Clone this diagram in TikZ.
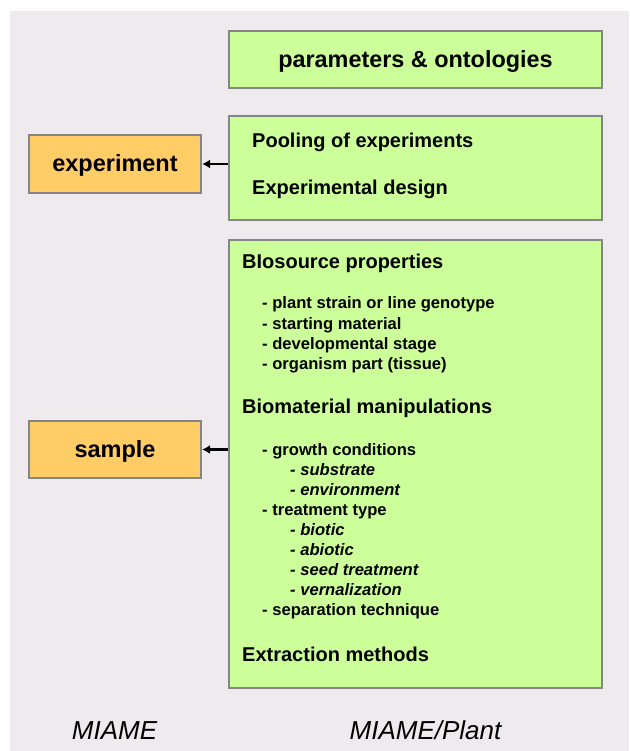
\documentclass[tikz,border=0pt]{standalone}
\usepackage{fontspec}
\setmainfont{Liberation Sans}
\usepackage{xcolor}
\usepackage{tikz}
\usetikzlibrary{arrows.meta}
\definecolor{slidebg}{HTML}{EEEAEE}
\definecolor{plantgreen}{HTML}{CCFF99}
\definecolor{miameorange}{HTML}{FFCC66}
\definecolor{boxedge}{HTML}{858585}

\begin{document}
\begin{tikzpicture}[x=1pt,y=-1pt,
  box/.style={draw=boxedge,line width=2.2pt,inner sep=0pt,text height=18.5pt,text depth=2.5pt},
  plantbox/.style={box,fill=plantgreen,minimum width=373pt},
  miamebox/.style={box,fill=miameorange,minimum width=172pt,
    font=\fontsize{23.5}{28}\selectfont\bfseries},
  head/.style={anchor=base west,inner sep=0pt,font=\fontsize{20}{24}\selectfont\bfseries},
  item/.style={anchor=base west,inner sep=0pt,font=\fontsize{16.6}{20}\selectfont\bfseries},
  subitem/.style={anchor=base west,inner sep=0pt,font=\fontsize{16.6}{20}\selectfont\bfseries\itshape},
  caption/.style={anchor=base,inner sep=0pt,font=\fontsize{26}{30}\selectfont\itshape},
  link/.style={-{Latex[length=8pt,width=9pt]},line width=2.4pt},
]
\useasboundingbox (0,0) rectangle (629,751);
\fill[slidebg] (10,11) rectangle (629,751);

% MIAME/Plant boxes
\node[plantbox,minimum height=57pt,font=\fontsize{23.4}{28}\selectfont\bfseries]
  (params) at (415.5,59.5) {parameters \& ontologies};
\node[plantbox,minimum height=104pt] (design) at (415.5,168) {};
\node[plantbox,minimum height=448pt] (biosource) at (415.5,464) {};

% MIAME boxes
\node[miamebox,minimum height=58pt] (experiment) at (115,164) {experiment};
\node[miamebox,minimum height=57pt] (sample) at (115,449.5) {sample};

\draw[link] (experiment.east -| design.west) -- (experiment.east);
\draw[link] (sample.east -| biosource.west) -- (sample.east);

\node[head] (pooling) at (252,148) {Pooling of experiments};
\node[head] (expdesign) at (252,195) {Experimental design};

\node[head] (bioprops) at (242,268) {BIosource properties};
\node[item] (strain) at (262,308) {- plant strain or line genotype};
\node[item] (material) at (262,329) {- starting material};
\node[item] (stage) at (262,349) {- developmental stage};
\node[item] (organ) at (262,369) {- organism part (tissue)};

\node[head] (biomat) at (242,413) {Biomaterial manipulations};
\node[item] (growth) at (262,455) {- growth conditions};
\node[subitem] (substrate) at (290,475) {- substrate};
\node[subitem] (environment) at (290,495) {- environment};
\node[item] (treatment) at (262,515) {- treatment type};
\node[subitem] (biotic) at (290,535) {- biotic};
\node[subitem] (abiotic) at (290,555) {- abiotic};
\node[subitem] (seed) at (290,575) {- seed treatment};
\node[subitem] (vernal) at (290,595) {- vernalization};
\node[item] (separation) at (262,615) {- separation technique};

\node[head] (extraction) at (242,661) {Extraction methods};

\node[caption] (miame) at (114.5,739) {MIAME};
\node[caption] (miameplant) at (425.5,739) {MIAME/Plant};
\end{tikzpicture}
\end{document}
